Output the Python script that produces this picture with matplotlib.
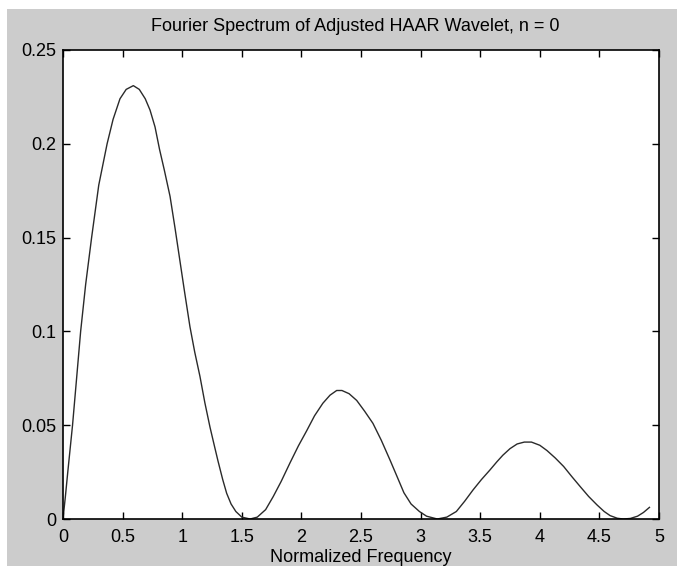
import matplotlib
matplotlib.use("Agg")
import matplotlib.pyplot as plt
from matplotlib.patches import Rectangle

plt.rcParams['font.family'] = ['Liberation Sans', 'DejaVu Sans']

# values
freq = [0.00, 0.02, 0.04, 0.08, 0.11, 0.148, 0.19, 0.24, 0.30, 0.37, 0.42, 0.478,
        0.53, 0.59, 0.64, 0.69, 0.73, 0.772, 0.81, 0.85, 0.898, 0.94, 0.98, 1.02,
        1.065, 1.105, 1.149, 1.19, 1.233, 1.27, 1.30, 1.34, 1.373, 1.41, 1.45, 1.50,
        1.57, 1.63, 1.70, 1.764, 1.83, 1.905, 1.975, 2.044, 2.11, 2.18, 2.24, 2.296,
        2.34, 2.40, 2.464, 2.53, 2.60, 2.67, 2.743, 2.80, 2.86, 2.92, 2.99, 3.05,
        3.14, 3.22, 3.30, 3.37, 3.44, 3.51, 3.58, 3.64, 3.69, 3.75, 3.81, 3.87,
        3.93, 4.00, 4.06, 4.13, 4.20, 4.27, 4.34, 4.41, 4.48, 4.54, 4.59, 4.65,
        4.70, 4.76, 4.82, 4.87, 4.92]
spectrum = [0.000, 0.012, 0.025, 0.050, 0.072, 0.100, 0.125, 0.150, 0.178, 0.200, 0.213, 0.224,
            0.229, 0.231, 0.229, 0.224, 0.218, 0.209, 0.197, 0.186, 0.172, 0.155, 0.138, 0.121,
            0.1025, 0.089, 0.076, 0.062, 0.049, 0.039, 0.031, 0.021, 0.0137, 0.008, 0.004, 0.001,
            0.000, 0.001, 0.005, 0.012, 0.020, 0.030, 0.039, 0.047, 0.055, 0.0617, 0.066, 0.0685,
            0.0685, 0.0668, 0.0632, 0.0575, 0.051, 0.042, 0.0315, 0.023, 0.014, 0.008, 0.004, 0.0015,
            0.000, 0.001, 0.004, 0.0095, 0.0155, 0.021, 0.026, 0.0305, 0.034, 0.0375, 0.040, 0.041,
            0.041, 0.0393, 0.0365, 0.0325, 0.028, 0.0225, 0.0172, 0.012, 0.0075, 0.004, 0.0018, 0.0004,
            0.000, 0.0003, 0.0015, 0.0035, 0.0062]

xticks = [0, 0.5, 1, 1.5, 2, 2.5, 3, 3.5, 4, 4.5, 5]
xlabels = ['0', '0.5', '1', '1.5', '2', '2.5', '3', '3.5', '4', '4.5', '5']
yticks = [0, 0.05, 0.1, 0.15, 0.2, 0.25]
ylabels = ['0', '0.05', '0.1', '0.15', '0.2', '0.25']

W, H = 677, 566
fig = plt.figure(figsize=(W / 100, H / 100), dpi=100, facecolor='#cccccc')
# white strips on top and left edge of the screenshot
fig.add_artist(Rectangle((0, 1 - 9 / H), 1, 9 / H, transform=fig.transFigure,
                         facecolor='white', edgecolor='none'))
fig.add_artist(Rectangle((0, 0), 7 / W, 1, transform=fig.transFigure,
                         facecolor='white', edgecolor='none'))

ax = fig.add_axes([63 / W, (H - 519) / H, (659 - 63) / W, (519 - 50) / H])
ax.set_facecolor('white')
ax.plot(freq, spectrum, color='#2a2a2a', linewidth=1.0)

ax.set_xlim(0, 5)
ax.set_ylim(0, 0.25)
ax.set_xticks(xticks)
ax.set_xticklabels(xlabels)
ax.set_yticks(yticks)
ax.set_yticklabels(ylabels)
ax.tick_params(direction='in', length=5, width=1, top=True, right=True,
               labelsize=13, colors='black')
ax.tick_params(axis='x', pad=7)
ax.tick_params(axis='y', pad=5)
for s in ax.spines.values():
    s.set_linewidth(1.2)

ax.set_title('Fourier Spectrum of Adjusted HAAR Wavelet, n = 0', fontsize=13, pad=14, x=0.49)
ax.set_xlabel('Normalized Frequency', fontsize=13, labelpad=2)

fig.savefig('out.png', dpi=100, facecolor=fig.get_facecolor())
